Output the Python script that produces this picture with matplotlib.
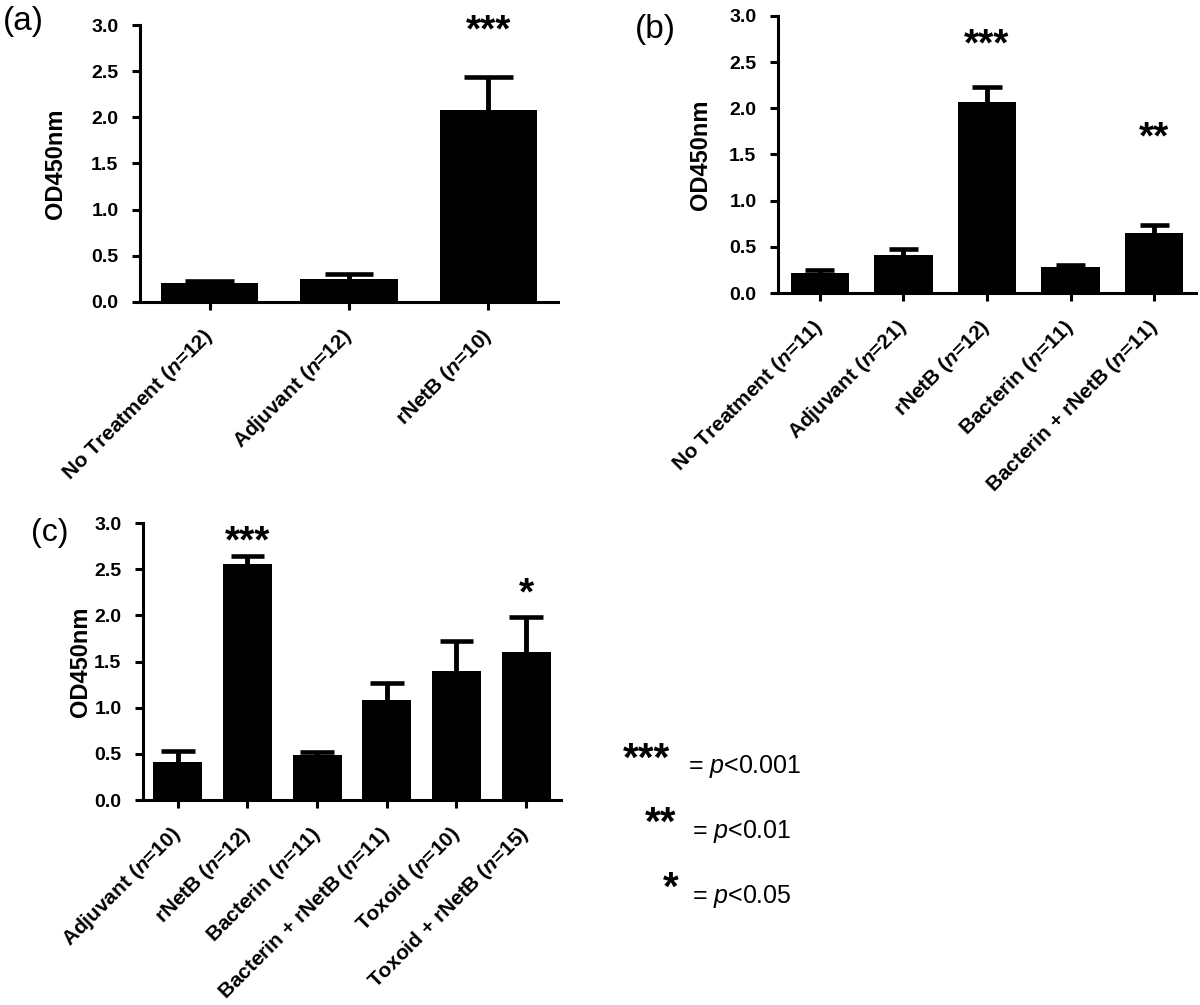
import matplotlib
matplotlib.use("Agg")
import matplotlib.pyplot as plt
import numpy as np

plt.rcParams['font.family'] = ['Liberation Sans', 'DejaVu Sans']
plt.rcParams['mathtext.fontset'] = 'custom'
plt.rcParams['mathtext.rm'] = 'Liberation Sans:regular'
plt.rcParams['mathtext.it'] = 'Liberation Sans:italic:regular'
plt.rcParams['mathtext.bf'] = 'Liberation Sans:bold'
plt.rcParams['mathtext.bfit'] = 'Liberation Sans:italic:bold'

# panel (a)
groups_a = ["No Treatment", "Adjuvant", "rNetB"]
n_a = [12, 12, 10]
mean_a = [0.21, 0.25, 2.08]
err_a = [0.02, 0.05, 0.36]
stars_a = ["", "", "***"]

# panel (b)
groups_b = ["No Treatment", "Adjuvant", "rNetB", "Bacterin", "Bacterin + rNetB"]
n_b = [11, 21, 12, 11, 11]
mean_b = [0.22, 0.41, 2.07, 0.28, 0.65]
err_b = [0.03, 0.07, 0.16, 0.02, 0.09]
stars_b = ["", "", "***", "", "**"]

# panel (c)
groups_c = ["Adjuvant", "rNetB", "Bacterin", "Bacterin + rNetB", "Toxoid", "Toxoid + rNetB"]
n_c = [10, 12, 11, 11, 10, 15]
mean_c = [0.41, 2.56, 0.49, 1.08, 1.40, 1.60]
err_c = [0.12, 0.08, 0.03, 0.19, 0.32, 0.38]
stars_c = ["", "***", "", "", "", "*"]

# where the top of each star string sits (data units)
star_top_a = [0, 0, 3.12]
star_top_b = [0, 0, 2.88, 0, 1.87]
star_top_c = [0, 2.98, 0, 0, 0, 2.42]

W, H = 1200, 1005


def px_axes(fig, left, top, right, bottom):
    return fig.add_axes([left / W, 1 - bottom / H, (right - left) / W, (bottom - top) / H])


def draw_panel(ax, groups, ns, means, errs, stars, star_tops, ylab_x, cap_half):
    x = np.arange(len(groups))
    means = np.array(means)
    tops = means + np.array(errs)
    ax.bar(x, means, width=0.7, color='black', zorder=2)
    ax.vlines(x, means, tops, color='black', linewidth=3.5, zorder=1)
    ax.hlines(tops, x - cap_half, x + cap_half, color='black', linewidth=3.3, zorder=1)

    for xi, s, st in zip(x, stars, star_tops):
        if s:
            ax.text(xi, st, s, ha='center', va='top', fontsize=28,
                    fontweight='bold', clip_on=False)

    ax.set_xlim(-0.5, len(groups) - 0.5)
    ax.set_ylim(0, 3.0)
    yt = np.arange(0, 3.01, 0.5)
    ax.set_yticks(yt)
    ax.set_yticklabels([f"{v:.1f}" for v in yt], fontweight='bold', fontsize=14)
    labels = [f"{g} ($\\mathbfit{{n}}$={n})" for g, n in zip(groups, ns)]
    ax.set_xticks(x)
    ax.set_xticklabels(labels, rotation=45, ha='right', va='center',
                       rotation_mode='anchor', fontweight='bold', fontsize=15)
    ax.tick_params(axis='both', direction='out', length=5.5, width=2.2)
    ax.tick_params(axis='x', pad=17)
    ax.tick_params(axis='y', pad=10)
    for side in ['top', 'right']:
        ax.spines[side].set_visible(False)
    for side in ['left', 'bottom']:
        ax.spines[side].set_linewidth(2.2)
    ax.set_ylabel("OD450nm", fontsize=17, fontweight='bold')
    ax.yaxis.set_label_coords(ylab_x, 0.5)


fig = plt.figure(figsize=(W / 100, H / 100), dpi=100)

ax_a = px_axes(fig, 140, 25, 558, 302)
draw_panel(ax_a, groups_a, n_a, mean_a, err_a, stars_a, star_top_a, -0.175, 0.175)

ax_b = px_axes(fig, 778, 16, 1196, 293)
draw_panel(ax_b, groups_b, n_b, mean_b, err_b, stars_b, star_top_b, -0.158, 0.175)

ax_c = px_axes(fig, 143, 523, 561, 800)
draw_panel(ax_c, groups_c, n_c, mean_c, err_c, stars_c, star_top_c, -0.122, 0.24)

fig.text(3 / W, 1 - 6 / H, "(a)", fontsize=24, va='top')
fig.text(635 / W, 1 - 14 / H, "(b)", fontsize=24, va='top')
fig.text(31 / W, 1 - 518 / H, "(c)", fontsize=23, va='top')

# significance key
fig.text(623 / W, 1 - 741 / H, "***", fontsize=29, fontweight='bold', va='top')
fig.text(688 / W, 1 - 773 / H, "= $\\mathit{p}$<0.001", fontsize=18)
fig.text(645 / W, 1 - 805 / H, "**", fontsize=29, fontweight='bold', va='top')
fig.text(692 / W, 1 - 838 / H, "= $\\mathit{p}$<0.01", fontsize=18)
fig.text(663 / W, 1 - 870 / H, "*", fontsize=29, fontweight='bold', va='top')
fig.text(692 / W, 1 - 903 / H, "= $\\mathit{p}$<0.05", fontsize=18)

fig.savefig("out.png", dpi=100)
